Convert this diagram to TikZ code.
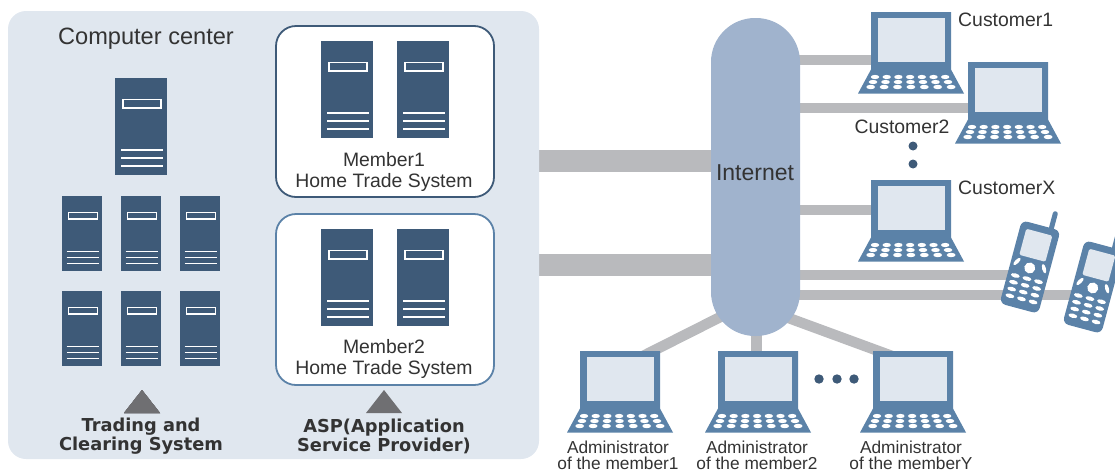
\documentclass[tikz,border=0pt]{standalone}
\usepackage{fontspec}
\setmainfont{Liberation Sans}
\newfontfamily\heavyfont{DejaVu Sans}
\usetikzlibrary{backgrounds}
\definecolor{panelblue}{HTML}{E0E7EF}
\definecolor{serverblue}{HTML}{3E5A78}
\definecolor{iconblue}{HTML}{5B82A8}
\definecolor{cloudblue}{HTML}{A0B3CD}
\definecolor{linkgray}{HTML}{B9BABD}
\definecolor{arrowgray}{HTML}{6F6F72}
\definecolor{labelgray}{HTML}{333333}
\tikzset{
  widelink/.style={linkgray,line width=22pt},
  thinlink/.style={linkgray,line width=10.5pt},
  label/.style={text=labelgray,font=\fontsize{19.4}{21}\selectfont,inner sep=0pt,align=center},
  smalllabel/.style={label,font=\fontsize{17.3}{16.5}\selectfont},
  boldlabel/.style={text=labelgray,font=\heavyfont\bfseries\fontsize{17.8}{19}\selectfont,inner sep=0pt,align=center},
}
% server cabinet, #1 = top left corner, #2 = scale
\newcommand{\servericon}[2]{
  \begin{scope}[shift={#1},scale=#2]
    \fill[serverblue] (0,0) rectangle (52,97);
    \draw[white,line width=1.3pt] (8,21.5) rectangle (46,30);
    \foreach \y in {72,80,88}
      \draw[white,line width=1.1pt] (6,\y) -- (47.5,\y);
  \end{scope}
}
% laptop, #1 = top left corner of the lid
\newcommand{\laptopicon}[1]{
  \begin{scope}[shift={#1}]
    \fill[iconblue] (0,0) -- (80,0) -- (80,57.5) -- (93,81.5) -- (-13,81.5) -- (0,57.5) -- cycle;
    \fill[panelblue] (7,6) rectangle (74,50);
    \foreach \x in {0,...,6} {
      \fill[white] (4+\x*11.7,65) ellipse (4.2 and 2.1);
      \fill[white] (2+\x*12.5,70) ellipse (4.3 and 2.1);
      \fill[white] (-0.3+\x*13.4,75) ellipse (4.4 and 2.2);
    }
  \end{scope}
}
% mobile phone, #1 = centre of the body
\newcommand{\phoneicon}[1]{
  \begin{scope}[shift={#1},rotate=-15]
    \draw[iconblue,line width=5pt,line cap=round] (10.6,-40) -- (10.6,-58);
    \fill[iconblue,rounded corners=6pt] (-20,-43) rectangle (20,43);
    \fill[panelblue,rounded corners=1.5pt] (-13.5,-36) rectangle (13.5,-9);
    \fill[white] (0,1) circle (5.5);
    \fill[white,rotate around={60:(-14,-2)}] (-14,-2) ellipse (4.8 and 1.9);
    \fill[white,rotate around={-60:(14,-2)}] (14,-2) ellipse (4.8 and 1.9);
    \foreach \y in {12,19,26,33}
      \foreach \x in {-12,0,12}
        \fill[white] (\x,\y) ellipse (4.5 and 2.1);
  \end{scope}
}
\begin{document}
\begin{tikzpicture}[x=1pt,y=-1pt]
  \clip (0,0) rectangle (1115,472);
  % computer center
  \fill[panelblue,rounded corners=18pt] (8,11) rectangle (539,459);
  \node[label,font=\fontsize{23.6}{26}\selectfont] (center) at (146,39) {Computer center};
  \servericon{(115,78)}{1}
  \foreach \x in {62,121,180}
    \foreach \y in {196,291}
      \servericon{(\x,\y)}{0.77}
  \fill[arrowgray] (124,413) -- (142,390) -- (160,413) -- cycle;
  \node[boldlabel] (trading) at (141,436) {Trading and\\Clearing System};
  % member boxes
  \draw[serverblue,fill=white,line width=1.8pt,rounded corners=20pt] (276,26) rectangle (494,197);
  \draw[iconblue,fill=white,line width=1.8pt,rounded corners=20pt] (276,214) rectangle (494,385);
  \foreach \x in {321,397} {
    \servericon{(\x,41)}{1}
    \servericon{(\x,229)}{1}
  }
  \node[label] (member1) at (384,172) {Member1\\Home Trade System};
  \node[label] (member2) at (384,359) {Member2\\Home Trade System};
  \fill[arrowgray] (366,413) -- (384,390) -- (402,413) -- cycle;
  \node[boldlabel] (asp) at (384,436) {ASP(Application\\Service Provider)};
  % internet
  \node[fill=cloudblue,minimum width=89pt,minimum height=318pt,rounded corners=44pt,
    inner sep=0pt] (internet) at (755.5,177) {};
  \node[label,font=\fontsize{23}{26}\selectfont] (netlabel) at (755,173) {Internet};
  % end points of the links
  \coordinate (panelA) at (539,161);
  \coordinate (panelB) at (539,265);
  \coordinate (hubA) at (756,299);
  \coordinate (hubB) at (756,306);
  \coordinate (custA) at (880,60);
  \coordinate (custB) at (980,108);
  \coordinate (custX) at (880,210);
  \coordinate (phoneA) at (1030,275);
  \coordinate (phoneB) at (1090,295);
  \coordinate (adminA) at (643,356);
  \coordinate (adminB) at (756.5,355);
  \coordinate (adminY) at (892,356);
  \begin{pgfonlayer}{background}
    \draw[widelink] (panelA) -- (internet.center |- panelA);
    \draw[widelink] (panelB) -- (internet.center |- panelB);
    \draw[thinlink] (internet.center |- custA) -- (custA);
    \draw[thinlink] (internet.center |- custB) -- (custB);
    \draw[thinlink] (internet.center |- custX) -- (custX);
    \draw[thinlink] (internet.center |- phoneA) -- (phoneA);
    \draw[thinlink] (internet.center |- phoneB) -- (phoneB);
    \draw[thinlink] (hubA) -- (adminA);
    \draw[thinlink] (adminB |- hubA) -- (adminB);
    \draw[thinlink] (hubB) -- (adminY);
  \end{pgfonlayer}
  % customers
  \laptopicon{(871,12)}
  \laptopicon{(968,62)}
  \laptopicon{(871,180)}
  \node[label,anchor=west] (customer1) at (958,20) {Customer1};
  \node[label] (customer2) at (902,127) {Customer2};
  \node[label,anchor=west] (customerx) at (958,188) {CustomerX};
  \fill[serverblue] (913,146) circle (4.5);
  \fill[serverblue] (913,164) circle (4.5);
  \phoneicon{(1030,267)}
  \phoneicon{(1093,287)}
  % administrators
  \laptopicon{(580,351)}
  \laptopicon{(718,351)}
  \laptopicon{(873,351)}
  \foreach \x in {819,837,854}
    \fill[serverblue] (\x,379) circle (4.7);
  \node[smalllabel] (admin1) at (618,455.5) {Administrator\\of the member1};
  \node[smalllabel] (admin2) at (757,455.5) {Administrator\\of the member2};
  \node[smalllabel] (adminy) at (911,455.5) {Administrator\\of the memberY};
\end{tikzpicture}
\end{document}
